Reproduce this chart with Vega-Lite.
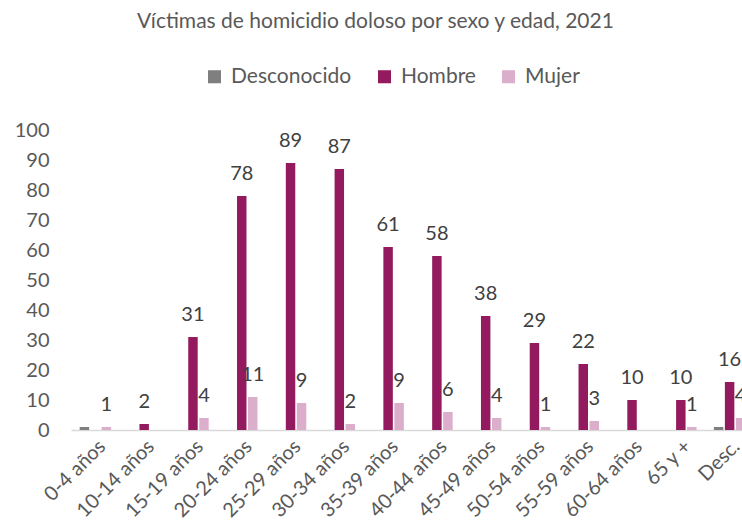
{
  "$schema": "https://vega.github.io/schema/vega-lite/v6.json",
  "autosize": {"type": "none"},
  "width": 683,
  "height": 300,
  "padding": {"left": 71, "top": 130, "right": 0, "bottom": 90},
  "background": "white",
  "config": {
    "view": {"stroke": null},
    "font": "Lato"
  },
  "title": {
    "text": "Víctimas de homicidio doloso por sexo y edad, 2021",
    "font": "Lato",
    "fontSize": 21,
    "fontWeight": "normal",
    "color": "#595959",
    "anchor": "middle",
    "dx": -37,
    "offset": 34
  },
  "data": {
    "values": [
      {"edad": "0-4 años", "sexo": "Desconocido", "v": 1},
      {"edad": "0-4 años", "sexo": "Mujer", "v": 1},
      {"edad": "10-14 años", "sexo": "Hombre", "v": 2},
      {"edad": "15-19 años", "sexo": "Hombre", "v": 31},
      {"edad": "15-19 años", "sexo": "Mujer", "v": 4},
      {"edad": "20-24 años", "sexo": "Hombre", "v": 78},
      {"edad": "20-24 años", "sexo": "Mujer", "v": 11},
      {"edad": "25-29 años", "sexo": "Hombre", "v": 89},
      {"edad": "25-29 años", "sexo": "Mujer", "v": 9},
      {"edad": "30-34 años", "sexo": "Hombre", "v": 87},
      {"edad": "30-34 años", "sexo": "Mujer", "v": 2},
      {"edad": "35-39 años", "sexo": "Hombre", "v": 61},
      {"edad": "35-39 años", "sexo": "Mujer", "v": 9},
      {"edad": "40-44 años", "sexo": "Hombre", "v": 58},
      {"edad": "40-44 años", "sexo": "Mujer", "v": 6},
      {"edad": "45-49 años", "sexo": "Hombre", "v": 38},
      {"edad": "45-49 años", "sexo": "Mujer", "v": 4},
      {"edad": "50-54 años", "sexo": "Hombre", "v": 29},
      {"edad": "50-54 años", "sexo": "Mujer", "v": 1},
      {"edad": "55-59 años", "sexo": "Hombre", "v": 22},
      {"edad": "55-59 años", "sexo": "Mujer", "v": 3},
      {"edad": "60-64 años", "sexo": "Hombre", "v": 10},
      {"edad": "65 y +", "sexo": "Hombre", "v": 10},
      {"edad": "65 y +", "sexo": "Mujer", "v": 1},
      {"edad": "Desc.", "sexo": "Desconocido", "v": 1},
      {"edad": "Desc.", "sexo": "Hombre", "v": 16},
      {"edad": "Desc.", "sexo": "Mujer", "v": 4}
    ]
  },
  "encoding": {
    "x": {
      "field": "edad",
      "type": "nominal",
      "scale": {
        "domain": ["0-4 años", "10-14 años", "15-19 años", "20-24 años", "25-29 años", "30-34 años", "35-39 años", "40-44 años", "45-49 años", "50-54 años", "55-59 años", "60-64 años", "65 y +", "Desc."],
        "paddingInner": 0.355,
        "paddingOuter": 0.1775
      },
      "axis": {
        "title": null,
        "labelAngle": -45,
        "labelFont": "Lato",
        "labelFontSize": 20,
        "labelColor": "#595959",
        "labelPadding": 6,
        "ticks": false,
        "domainColor": "#d9d9d9",
        "domainWidth": 1.5
      }
    },
    "xOffset": {
      "field": "sexo",
      "type": "nominal",
      "scale": {"domain": ["Desconocido", "Hombre", "Mujer"], "paddingInner": 0.14, "paddingOuter": 0}
    },
    "y": {
      "field": "v",
      "type": "quantitative",
      "scale": {"domain": [0, 100]},
      "axis": {
        "title": null,
        "values": [0, 10, 20, 30, 40, 50, 60, 70, 80, 90, 100],
        "grid": false,
        "domain": false,
        "ticks": false,
        "labelFont": "Lato",
        "labelFontSize": 20,
        "labelColor": "#595959",
        "labelPadding": 22
      }
    }
  },
  "layer": [
    {
      "mark": {"type": "bar"},
      "encoding": {
        "color": {
          "field": "sexo",
          "type": "nominal",
          "scale": {"domain": ["Desconocido", "Hombre", "Mujer"], "range": ["#7f7f7f", "#931a5e", "#dbaecb"]},
          "legend": {
            "title": null,
            "orient": "none",
            "direction": "horizontal",
            "legendX": 133,
            "legendY": -64,
            "symbolType": "square",
            "symbolSize": 170,
            "symbolStrokeWidth": 0,
            "labelFont": "Lato",
            "labelFontSize": 21,
            "labelColor": "#595959",
            "labelOffset": 6,
            "columnPadding": 22
          }
        }
      }
    },
    {
      "transform": [{"filter": "datum.sexo !== 'Desconocido'"}],
      "mark": {"type": "text", "baseline": "middle", "align": "center", "dy": -22, "font": "Lato", "fontSize": 20, "color": "#404040"},
      "encoding": {
        "text": {"field": "v", "type": "quantitative"}
      }
    }
  ]
}
